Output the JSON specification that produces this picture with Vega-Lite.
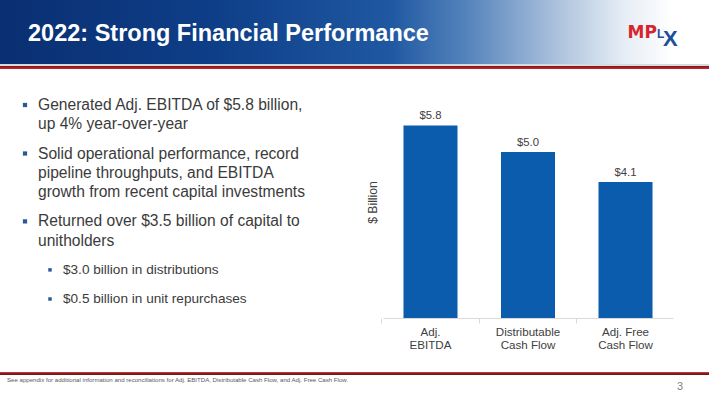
{
  "$schema": "https://vega.github.io/schema/vega-lite/v6.json",
  "background": "white",
  "padding": 0,
  "spacing": 0,
  "bounds": "full",
  "config": {
    "font": "Liberation Sans, Arial, sans-serif",
    "view": {"stroke": null},
    "concat": {"spacing": 0}
  },
  "vconcat": [
    {
      "width": 709,
      "height": 64,
      "view": {
        "stroke": null,
        "fill": {
          "gradient": "linear", "x1": 0, "y1": 0, "x2": 1, "y2": 0,
          "stops": [
            {"offset": 0, "color": "#0a2f72"},
            {"offset": 0.3, "color": "#0e3e88"},
            {"offset": 0.55, "color": "#1f58a1"},
            {"offset": 0.66, "color": "#5584bc"},
            {"offset": 0.78, "color": "#a8bfdb"},
            {"offset": 0.88, "color": "#e6edf5"},
            {"offset": 0.95, "color": "#ffffff"},
            {"offset": 1, "color": "#ffffff"}
          ]
        }
      },
      "data": {"values": [
        {"slot": "left", "piece": "title", "text": "2022: Strong Financial Performance"},
        {"slot": "right", "piece": "mp", "text": "MP"},
        {"slot": "right", "piece": "l", "text": "L"},
        {"slot": "right", "piece": "x", "text": "X"}
      ]},
      "encoding": {
        "x": {"field": "slot", "type": "nominal", "scale": {"type": "point", "padding": 0, "domain": ["left", "right"], "range": [28, 657]}, "axis": null},
        "text": {"field": "text"}
      },
      "layer": [
        {"transform": [{"filter": "datum.piece == 'title'"}],
         "mark": {"type": "text", "align": "left", "baseline": "alphabetic", "dy": 9, "fontSize": 23.5, "fontWeight": "bold", "color": "#ffffff"}},
        {"transform": [{"filter": "datum.piece == 'mp'"}],
         "mark": {"type": "text", "align": "right", "baseline": "alphabetic", "dy": 6, "fontSize": 17, "fontWeight": "bold", "font": "DejaVu Sans", "color": "#d4262c"}},
        {"transform": [{"filter": "datum.piece == 'l'"}],
         "mark": {"type": "text", "align": "left", "baseline": "alphabetic", "dy": 6, "dx": 0, "fontSize": 12, "fontWeight": "bold", "color": "#1d4f9c"}},
        {"transform": [{"filter": "datum.piece == 'x'"}],
         "mark": {"type": "text", "align": "left", "baseline": "alphabetic", "dy": 14, "dx": 6, "fontSize": 22, "fontWeight": "bold", "color": "#1d4f9c"}}
      ]
    },
    {
      "width": 709, "height": 2,
      "view": {"stroke": null, "fill": "#d6dae1"},
      "data": {"values": []},
      "mark": "rule",
      "encoding": {}
    },
    {
      "width": 709, "height": 3,
      "view": {"stroke": null, "fill": {"gradient": "linear", "x1": 0, "y1": 0, "x2": 0, "y2": 1,
        "stops": [{"offset": 0, "color": "#7e1519"}, {"offset": 1, "color": "#c9282c"}]}},
      "data": {"values": []},
      "mark": "rule",
      "encoding": {}
    },
    {
      "bounds": "flush",
      "spacing": 0,
      "hconcat": [
        {
          "width": 383,
          "height": 249,
          "data": {"values": [
            {"line": 0, "level": 1, "bullet": true, "text": "Generated Adj. EBITDA of $5.8 billion,"},
            {"line": 1, "level": 1, "bullet": false, "text": "up 4% year-over-year"},
            {"line": 2.5, "level": 1, "bullet": true, "text": "Solid operational performance, record"},
            {"line": 3.5, "level": 1, "bullet": false, "text": "pipeline throughputs, and EBITDA"},
            {"line": 4.5, "level": 1, "bullet": false, "text": "growth from recent capital investments"},
            {"line": 6, "level": 1, "bullet": true, "text": "Returned over $3.5 billion of capital to"},
            {"line": 7, "level": 1, "bullet": false, "text": "unitholders"},
            {"line": 8.5, "level": 2, "bullet": true, "text": "$3.0 billion in distributions"},
            {"line": 10, "level": 2, "bullet": true, "text": "$0.5 billion in unit repurchases"}
          ]},
          "encoding": {
            "x": {"field": "level", "type": "quantitative", "scale": {"domain": [0, 15.32], "nice": false, "zero": false}, "axis": null},
            "y": {"field": "line", "type": "quantitative", "scale": {"domain": [-1.856, 10.98], "reverse": true, "nice": false, "zero": false}, "axis": null}
          },
          "resolve": {"scale": {"size": "independent"}},
          "layer": [
            {
              "transform": [{"filter": "datum.bullet"}],
              "mark": {"type": "point", "shape": "square", "filled": true, "color": "#2c5898", "opacity": 1},
              "encoding": {
                "size": {"field": "level", "type": "quantitative", "scale": {"domain": [1, 2], "range": [18, 12]}, "legend": null}
              }
            },
            {
              "mark": {"type": "text", "align": "left", "baseline": "middle", "dx": 13, "color": "#3b3b3b"},
              "encoding": {
                "text": {"field": "text"},
                "size": {"field": "level", "type": "quantitative", "scale": {"domain": [1, 2], "range": [15.6, 13.6]}, "legend": null}
              }
            }
          ]
        },
        {
          "width": 290,
          "height": 249,
          "data": {"values": [
            {"metric": "Adj. EBITDA", "value": 5.8},
            {"metric": "Distributable Cash Flow", "value": 5.0},
            {"metric": "Adj. Free Cash Flow", "value": 4.1}
          ]},
          "encoding": {
            "x": {
              "field": "metric", "type": "nominal", "sort": null,
              "scale": {"paddingInner": 0.446, "paddingOuter": 0.21},
              "axis": {
                "title": null, "labelAngle": 0, "labelFontSize": 11.6, "labelColor": "#404040",
                "labelPadding": 3, "tickSize": 5, "tickColor": "#d9d9d9", "domainColor": "#d9d9d9",
                "bandPosition": -0.4, "labelLineHeight": 13,
                "labelExpr": "datum.value == 'Adj. EBITDA' ? ['Adj.', 'EBITDA'] : datum.value == 'Distributable Cash Flow' ? ['Distributable', 'Cash Flow'] : ['Adj. Free', 'Cash Flow']"
              }
            },
            "y": {
              "field": "value", "type": "quantitative",
              "scale": {"domain": [0, 7.5], "nice": false},
              "axis": {
                "title": "$ Billion", "labels": false, "ticks": false, "domain": false, "grid": false,
                "titleFontSize": 12.2, "titleFontWeight": "normal", "titleColor": "#404040",
                "titlePadding": 4, "titleY": 133
              }
            }
          },
          "layer": [
            {"mark": {"type": "bar", "color": "#0b5cad"}},
            {
              "mark": {"type": "text", "baseline": "bottom", "dy": -4, "fontSize": 11.3, "color": "#404040"},
              "encoding": {"text": {"field": "value", "type": "quantitative", "format": "$.1f"}}
            }
          ]
        }
      ]
    },
    {
      "width": 709, "height": 21,
      "data": {"values": []},
      "mark": "rule",
      "encoding": {}
    },
    {
      "width": 709, "height": 3,
      "view": {"stroke": null, "fill": {"gradient": "linear", "x1": 0, "y1": 0, "x2": 0, "y2": 1,
        "stops": [{"offset": 0, "color": "#d2474a"}, {"offset": 0.5, "color": "#8e1a1e"}, {"offset": 1, "color": "#5a1a1a"}]}},
      "data": {"values": []},
      "mark": "rule",
      "encoding": {}
    },
    {
      "width": 709, "height": 24,
      "data": {"values": [
        {"slot": "left", "text": "See appendix for additional information and reconciliations for Adj. EBITDA, Distributable Cash Flow, and Adj. Free Cash Flow."},
        {"slot": "right", "text": "3"}
      ]},
      "encoding": {
        "x": {"field": "slot", "type": "nominal", "scale": {"type": "point", "padding": 0, "domain": ["left", "right"], "range": [7, 680]}, "axis": null},
        "text": {"field": "text"}
      },
      "layer": [
        {"transform": [{"filter": "datum.slot == 'left'"}],
         "mark": {"type": "text", "align": "left", "baseline": "middle", "dy": -7, "fontSize": 6.1, "color": "#595959"}},
        {"transform": [{"filter": "datum.slot == 'right'"}],
         "mark": {"type": "text", "align": "center", "baseline": "middle", "fontSize": 11, "color": "#7f7f7f"}}
      ]
    }
  ]
}
